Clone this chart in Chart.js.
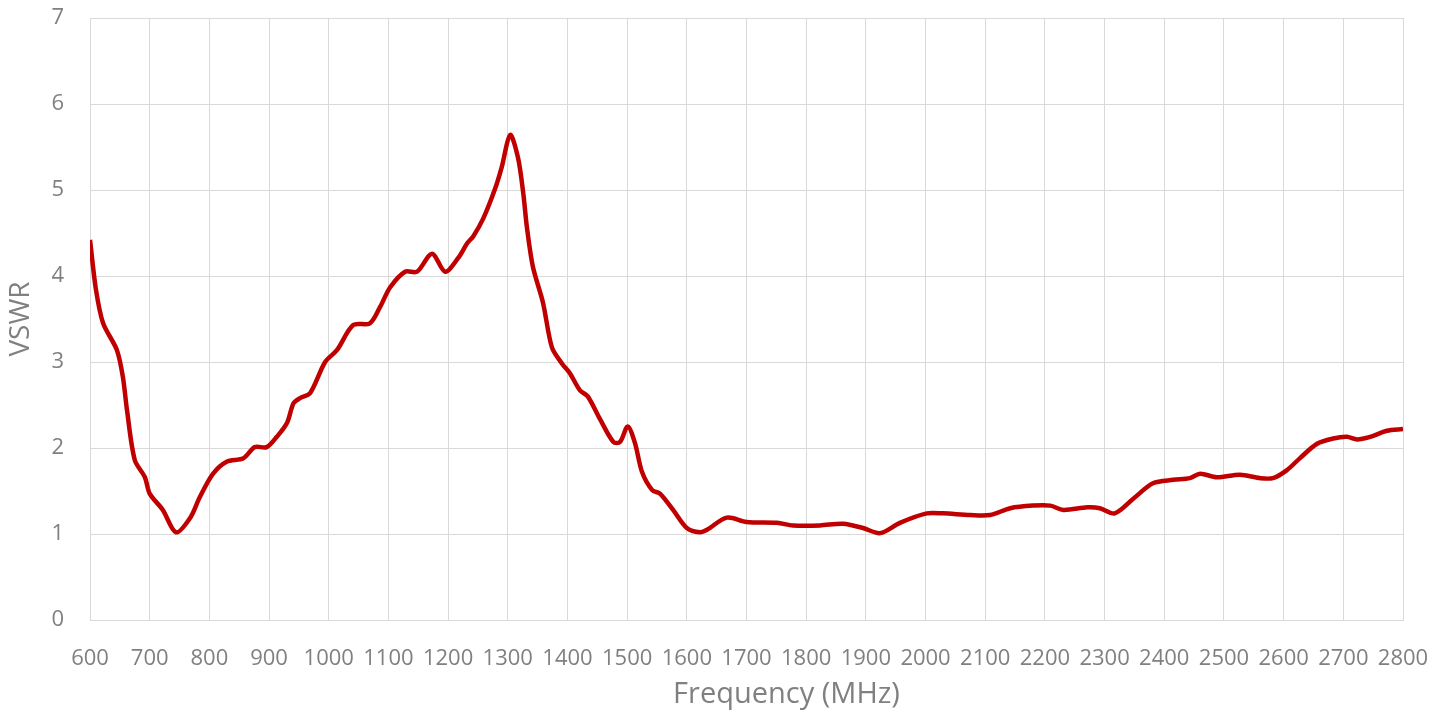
<!DOCTYPE html>
<html>
<head>
<meta charset="utf-8">
<script src="https://cdn.jsdelivr.net/npm/chart.js@4"></script>
<style>
  html, body { margin: 0; padding: 0; background: #fff; }
  #wrap { width: 1451px; height: 718px; position: relative; }
</style>
</head>
<body>
<div id="wrap"><canvas id="vswrChart"></canvas></div>
<script>
// frequency (MHz) and VSWR
var freqs = [600, 610, 622, 645, 655, 662, 675, 692, 700, 722, 744, 768, 784, 806, 829, 857, 876, 896, 913, 930,
             941, 952, 969, 994, 1014, 1041, 1069, 1086, 1103, 1128, 1148, 1173, 1195, 1217, 1232, 1242, 1259, 1279, 1290, 1304,
             1317, 1326, 1332, 1342, 1359, 1374, 1391, 1404, 1421, 1434, 1455, 1477, 1488, 1501, 1513, 1525, 1542, 1555, 1577, 1600,
             1622, 1634, 1667, 1700, 1751, 1778, 1823, 1862, 1895, 1924, 1957, 2002, 2029, 2075, 2108, 2142, 2180, 2209, 2231, 2271,
             2292, 2317, 2348, 2381, 2415, 2443, 2460, 2488, 2527, 2560, 2582, 2605, 2627, 2656, 2683, 2706, 2723, 2745, 2773, 2800];
var vswr = [4.42, 3.84, 3.45, 3.14, 2.83, 2.44, 1.86, 1.66, 1.47, 1.28, 1.02, 1.19, 1.43, 1.70, 1.84, 1.88, 2.01, 2.01, 2.13, 2.29,
            2.52, 2.58, 2.64, 3.00, 3.14, 3.43, 3.45, 3.64, 3.87, 4.05, 4.05, 4.26, 4.05, 4.21, 4.38, 4.46, 4.67, 5.02, 5.27, 5.64,
            5.38, 4.96, 4.57, 4.11, 3.69, 3.17, 2.98, 2.87, 2.67, 2.60, 2.33, 2.07, 2.07, 2.25, 2.06, 1.72, 1.51, 1.47, 1.28, 1.07,
            1.02, 1.05, 1.19, 1.14, 1.13, 1.10, 1.10, 1.12, 1.07, 1.01, 1.13, 1.24, 1.24, 1.22, 1.22, 1.30, 1.33, 1.33, 1.28, 1.31,
            1.30, 1.24, 1.41, 1.59, 1.63, 1.65, 1.70, 1.66, 1.69, 1.65, 1.65, 1.74, 1.88, 2.05, 2.11, 2.13, 2.10, 2.13, 2.20, 2.22];
var xTicks = [600, 700, 800, 900, 1000, 1100, 1200, 1300, 1400, 1500, 1600, 1700, 1800, 1900, 2000, 2100, 2200, 2300, 2400, 2500, 2600, 2700, 2800];
var yTicks = [0, 1, 2, 3, 4, 5, 6, 7];
var xTitle = 'Frequency (MHz)';

var points = freqs.map(function (f, i) { return { x: f, y: vswr[i] }; });

var gray = '#808080';
var gridGray = '#d9d9d9';

// x title sits a little right of the plot centre in the original
var xTitlePlugin = {
    id: 'xTitle',
    afterDraw: function (chart) {
        var c = chart.ctx, a = chart.chartArea;
        c.save();
        c.fillStyle = gray;
        c.font = '29px "Open Sans"';
        c.textAlign = 'center';
        c.textBaseline = 'middle';
        c.fillText(xTitle, (a.left + a.right) / 2 + 40, 695);
        c.restore();
    }
};

var ctx = document.getElementById('vswrChart').getContext('2d');
new Chart(ctx, {
    type: 'line',
    data: {
        datasets: [{
            label: 'VSWR',
            data: points,
            borderColor: '#c00000',
            borderWidth: 4.5,
            pointRadius: 0,
            tension: 0.3,
            fill: false
        }]
    },
    options: {
        responsive: true,
        maintainAspectRatio: false,
        animation: false,
        layout: { padding: { top: 18, right: 48, bottom: 0, left: 0 } },
        plugins: { legend: { display: false }, tooltip: { enabled: false } },
        scales: {
            x: {
                type: 'linear',
                min: 600,
                max: 2800,
                afterBuildTicks: function (axis) { axis.ticks = xTicks.map(function (v) { return { value: v }; }); },
                afterFit: function (axis) {
                    axis.height = 98;
                    axis.paddingLeft = 0;
                    axis.paddingRight = 0;
                },
                grid: { color: gridGray, lineWidth: 1, drawTicks: false },
                border: { color: gridGray },
                ticks: {
                    color: gray,
                    font: { family: 'Open Sans', size: 22 },
                    padding: 26,
                    autoSkip: false,
                    maxRotation: 0,
                    callback: function (v) { return String(v); }
                }
            },
            y: {
                min: 0,
                max: 7,
                afterBuildTicks: function (axis) { axis.ticks = yTicks.map(function (v) { return { value: v }; }); },
                afterFit: function (axis) {
                    axis.width = 90;
                    axis.paddingTop = 0;
                    axis.paddingBottom = 0;
                },
                grid: { color: gridGray, lineWidth: 1, drawTicks: false },
                border: { color: gridGray },
                ticks: {
                    color: gray,
                    font: { family: 'Open Sans', size: 22 },
                    padding: 26
                },
                title: {
                    display: true,
                    text: 'VSWR',
                    color: gray,
                    font: { family: 'Open Sans', size: 28 },
                    padding: { bottom: 2 }
                }
            }
        }
    },
    plugins: [xTitlePlugin]
});
</script>
</body>
</html>
